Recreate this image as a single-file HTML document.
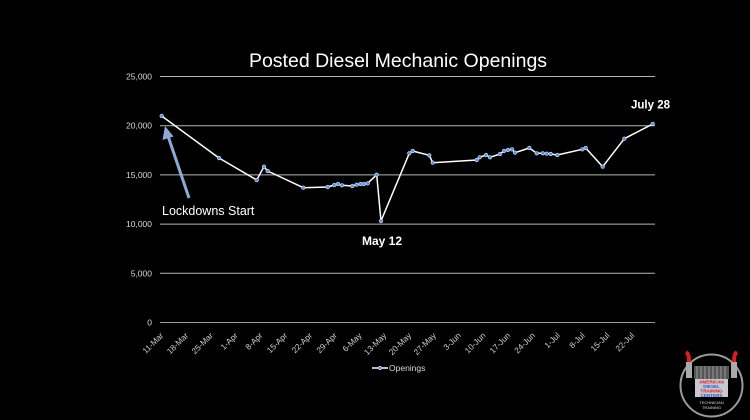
<!DOCTYPE html>
<html><head><meta charset="utf-8"><style>
html,body{margin:0;padding:0;background:#000;}
svg{display:block;}
text{font-family:"Liberation Sans",sans-serif;}
</style></head><body>
<svg width="750" height="420" viewBox="0 0 750 420" xmlns="http://www.w3.org/2000/svg">
<rect width="750" height="420" fill="#000"/>
<text x="398" y="67" font-size="19.5" fill="#fff" text-anchor="middle">Posted Diesel Mechanic Openings</text>
<g stroke="#b5b5b5" stroke-width="1">
<line x1="160" y1="76.5" x2="655" y2="76.5"/>
<line x1="160" y1="125.7" x2="655" y2="125.7"/>
<line x1="160" y1="174.9" x2="655" y2="174.9"/>
<line x1="160" y1="224.1" x2="655" y2="224.1"/>
<line x1="160" y1="273.3" x2="655" y2="273.3"/>
<line x1="160" y1="322.5" x2="655" y2="322.5" stroke="#999"/>
</g>
<g font-size="8.5" fill="#d9d9d9" text-anchor="end">
<text x="152" y="79.5">25,000</text>
<text x="152" y="128.7">20,000</text>
<text x="152" y="177.9">15,000</text>
<text x="152" y="227.1">10,000</text>
<text x="152" y="276.3">5,000</text>
<text x="152" y="325.5">0</text>
</g>
<g font-size="8.3" fill="#d0d0d0" text-anchor="end">
<text transform="translate(164,336) rotate(-45)">11-Mar</text>
<text transform="translate(188.8,336) rotate(-45)">18-Mar</text>
<text transform="translate(213.6,336) rotate(-45)">25-Mar</text>
<text transform="translate(238.3,336) rotate(-45)">1-Apr</text>
<text transform="translate(263.1,336) rotate(-45)">8-Apr</text>
<text transform="translate(287.9,336) rotate(-45)">15-Apr</text>
<text transform="translate(312.7,336) rotate(-45)">22-Apr</text>
<text transform="translate(337.5,336) rotate(-45)">29-Apr</text>
<text transform="translate(362.2,336) rotate(-45)">6-May</text>
<text transform="translate(387,336) rotate(-45)">13-May</text>
<text transform="translate(411.8,336) rotate(-45)">20-May</text>
<text transform="translate(436.6,336) rotate(-45)">27-May</text>
<text transform="translate(461.4,336) rotate(-45)">3-Jun</text>
<text transform="translate(486.1,336) rotate(-45)">10-Jun</text>
<text transform="translate(510.9,336) rotate(-45)">17-Jun</text>
<text transform="translate(535.7,336) rotate(-45)">24-Jun</text>
<text transform="translate(560.5,336) rotate(-45)">1-Jul</text>
<text transform="translate(585.3,336) rotate(-45)">8-Jul</text>
<text transform="translate(610,336) rotate(-45)">15-Jul</text>
<text transform="translate(634.8,336) rotate(-45)">22-Jul</text>
</g>
<polyline fill="none" stroke="#fff" stroke-width="1.5" stroke-linejoin="round" points="161.7,116 219,158 256.7,180 264,166.7 267.7,171 303.3,187.7 327.7,187 334.3,185 338,184 342,185.3 352.3,186 356.7,184.7 360.7,184 364,184 367.7,183.3 376.7,174.7 381,221 409.3,153.3 412.7,151 429.3,155.3 432.7,162.7 476.7,160 479.7,157.3 486,155 490,157.3 500,154 504,151 508,150 512,149.3 515,152.7 529.3,148 536.7,153.3 542.7,153.3 546.7,153.7 550.7,154 557.3,155 582.3,149.3 585.7,148 602.7,166.7 624.3,138.7 652.7,124"/>
<g fill="#5b8ee0" stroke="#dfe8f8" stroke-width="0.6">
<circle cx="161.7" cy="116" r="1.8"/><circle cx="219" cy="158" r="1.8"/><circle cx="256.7" cy="180" r="1.8"/><circle cx="264" cy="166.7" r="1.8"/><circle cx="267.7" cy="171" r="1.8"/><circle cx="303.3" cy="187.7" r="1.8"/><circle cx="327.7" cy="187" r="1.8"/><circle cx="334.3" cy="185" r="1.8"/><circle cx="338" cy="184" r="1.8"/><circle cx="342" cy="185.3" r="1.8"/><circle cx="352.3" cy="186" r="1.8"/><circle cx="356.7" cy="184.7" r="1.8"/><circle cx="360.7" cy="184" r="1.8"/><circle cx="364" cy="184" r="1.8"/><circle cx="367.7" cy="183.3" r="1.8"/><circle cx="376.7" cy="174.7" r="1.8"/><circle cx="381" cy="221" r="1.8"/><circle cx="409.3" cy="153.3" r="1.8"/><circle cx="412.7" cy="151" r="1.8"/><circle cx="429.3" cy="155.3" r="1.8"/><circle cx="432.7" cy="162.7" r="1.8"/><circle cx="476.7" cy="160" r="1.8"/><circle cx="479.7" cy="157.3" r="1.8"/><circle cx="486" cy="155" r="1.8"/><circle cx="490" cy="157.3" r="1.8"/><circle cx="500" cy="154" r="1.8"/><circle cx="504" cy="151" r="1.8"/><circle cx="508" cy="150" r="1.8"/><circle cx="512" cy="149.3" r="1.8"/><circle cx="515" cy="152.7" r="1.8"/><circle cx="529.3" cy="148" r="1.8"/><circle cx="536.7" cy="153.3" r="1.8"/><circle cx="542.7" cy="153.3" r="1.8"/><circle cx="546.7" cy="153.7" r="1.8"/><circle cx="550.7" cy="154" r="1.8"/><circle cx="557.3" cy="155" r="1.8"/><circle cx="582.3" cy="149.3" r="1.8"/><circle cx="585.7" cy="148" r="1.8"/><circle cx="602.7" cy="166.7" r="1.8"/><circle cx="624.3" cy="138.7" r="1.8"/><circle cx="652.7" cy="124" r="1.8"/>
</g>
<!-- arrow -->
<line x1="189" y1="198" x2="168" y2="136" stroke="#8fa9d6" stroke-width="3"/>
<polygon points="165,126 162.5,140 173.5,136.5" fill="#8fa9d6"/>
<text x="162" y="215" font-size="12.5" fill="#fff">Lockdowns Start</text>
<text x="362" y="245" font-size="12" font-weight="bold" fill="#fff">May 12</text>
<text x="631" y="108.5" font-size="11.5" font-weight="bold" fill="#fff">July 28</text>
<!-- legend -->
<line x1="372" y1="368" x2="388" y2="368" stroke="#fff" stroke-width="1.5"/>
<circle cx="380" cy="368" r="1.8" fill="#5b8ee0" stroke="#dfe8f8" stroke-width="0.6"/>
<text x="389" y="371" font-size="8.5" fill="#d9d9d9">Openings</text>
<!-- logo -->
<g>
<circle cx="711.5" cy="385.5" r="31" fill="#000" stroke="#9a9a9a" stroke-width="2"/>
<rect x="694" y="366" width="35" height="13" fill="#555"/>
<g stroke="#bbb" stroke-width="0.7">
<line x1="697" y1="366" x2="697" y2="379"/><line x1="701" y1="366" x2="701" y2="379"/><line x1="705" y1="366" x2="705" y2="379"/><line x1="709" y1="366" x2="709" y2="379"/><line x1="713" y1="366" x2="713" y2="379"/><line x1="717" y1="366" x2="717" y2="379"/><line x1="721" y1="366" x2="721" y2="379"/><line x1="725" y1="366" x2="725" y2="379"/>
</g>
<path d="M686,352 Q689,354 689,360 L689,378" stroke="#d42020" stroke-width="4" fill="none"/>
<path d="M737,352 Q734,354 734,360 L734,378" stroke="#d42020" stroke-width="4" fill="none"/>
<rect x="686" y="362" width="6" height="16" fill="#aaa"/>
<rect x="731" y="362" width="6" height="16" fill="#aaa"/>
<rect x="695" y="379" width="33" height="18" fill="#c8c8d0"/>
<text x="711.5" y="383.5" font-size="4.6" font-weight="bold" fill="#d42020" text-anchor="middle">AMERICAN</text>
<text x="711.5" y="388" font-size="4.6" font-weight="bold" fill="#2f55c8" text-anchor="middle">DIESEL</text>
<text x="711.5" y="392.5" font-size="4.6" font-weight="bold" fill="#d42020" text-anchor="middle">TRAINING</text>
<text x="711.5" y="397" font-size="4.6" font-weight="bold" fill="#2f55c8" text-anchor="middle">CENTERS</text>
<text x="711.5" y="404" font-size="4" fill="#ddd" text-anchor="middle">TECHNICIAN</text>
<text x="711.5" y="409" font-size="4" fill="#ddd" text-anchor="middle">TRAINING</text>
</g>
</svg>
</body></html>
